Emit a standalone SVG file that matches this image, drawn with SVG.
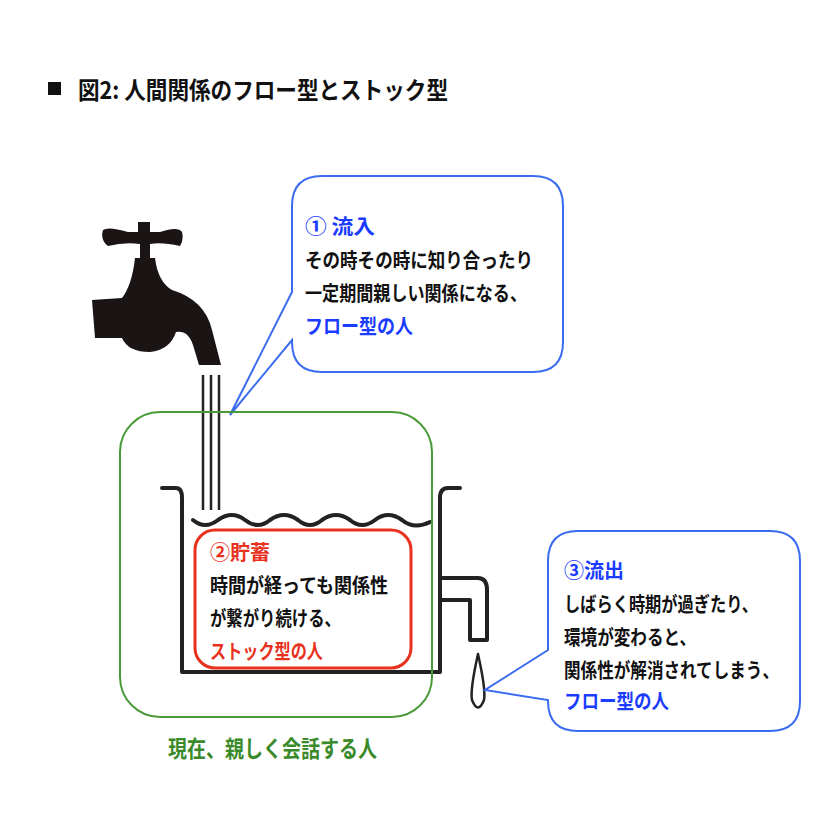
<svg xmlns="http://www.w3.org/2000/svg" width="830" height="830" viewBox="0 0 830 830">
<defs>
<style>
text{font-family:"Noto Sans CJK JP","Noto Sans",sans-serif;font-weight:bold;font-size:20px;fill:#111}
.b{fill:#1a3cff}.r{fill:#e8321e}.g{fill:#3a8a2a}
.ln{fill:none;stroke:#222;stroke-width:4;stroke-linecap:round;stroke-linejoin:round}
</style>
</defs>
<rect width="830" height="830" fill="#fff"/>
<g id="title"><rect x="48" y="82" width="13" height="13" fill="#111"/><text x="78" y="99" style="font-size:24px" textLength="370" lengthAdjust="spacingAndGlyphs">図2: 人間関係のフロー型とストック型</text></g>
<g id="faucet" fill="#1a1414">
<path d="M103 230 Q108 226 128 232 L138 232 L138 222 L150 222 L150 232 L160 232 Q178 226 182 232 Q184 240 180 246 Q162 242 150 244 L150 258 L140 258 L140 244 Q124 242 108 246 Q100 240 103 230Z"/>
<path d="M135 258 L155 258 Q158 282 172 290 Q205 300 212 330 L221 365 L199 365 L193 345 Q188 330 176 332 Q170 350 150 352 Q128 352 122 338 L95 338 L92 300 L122 298 Q132 285 135 258Z"/>
</g>
<g id="streams" class="ln" style="stroke-width:2.5;stroke-linecap:butt"><path d="M203 375V510M211 375V510M219 375V510"/></g>
<g id="tank" class="ln">
<path d="M162 488 H176 Q182 488 182 498 V672 H440 V498 Q440 488 448 488 H460"/>
<path d="M440 578 H478 Q487 578 487 590 V640 H470 V600 H440"/>
<path d="M193 520 Q205 530 218 520 Q232 510 245 520 Q258 530 270 520 Q284 510 298 520 Q310 530 322 520 Q336 510 350 520 Q362 530 375 520 Q388 510 402 520 Q414 530 430 522"/>
<path d="M478 654 Q470 690 472 700 Q478 715 484 700 Q486 690 478 654Z" style="stroke-width:2.5"/>
</g>
<g id="connectors" fill="#fff" stroke="#3b6cf0" stroke-width="2">
<path d="M322 176 H533 Q563 176 563 206 V342 Q563 372 533 372 H322 Q292 372 292 342 V340 L230 415 L292 292 V206 Q292 176 322 176Z"/>
<path d="M578 531 H770 Q800 531 800 561 V701 Q800 731 770 731 H578 Q548 731 548 701 L548 700 L485 690 L548 650 V561 Q548 531 578 531Z"/>
</g>
<g id="stock"><rect x="120" y="412" width="312" height="305" rx="40" fill="none" stroke="#4a9a3a" stroke-width="2"/>
<rect x="195" y="530" width="216" height="138" rx="20" fill="none" stroke="#e8321e" stroke-width="3"/>
<text x="168" y="757" class="g" style="font-size:23px" textLength="209" lengthAdjust="spacingAndGlyphs">現在、親しく会話する人</text></g>
<g id="inflow"><text x="305" y="234" class="b" textLength="70" lengthAdjust="spacingAndGlyphs">① 流入</text><text x="305" y="268" textLength="228" lengthAdjust="spacingAndGlyphs">その時その時に知り合ったり</text><text x="305" y="301" textLength="222" lengthAdjust="spacingAndGlyphs">一定期間親しい関係になる、</text><text x="305" y="334" class="b" textLength="108" lengthAdjust="spacingAndGlyphs">フロー型の人</text></g>
<g id="storage"><text x="210" y="560" class="r" textLength="60" lengthAdjust="spacingAndGlyphs">②貯蓄</text><text x="210" y="593" textLength="178" lengthAdjust="spacingAndGlyphs">時間が経っても関係性</text><text x="210" y="626" textLength="131" lengthAdjust="spacingAndGlyphs">が繋がり続ける、</text><text x="210" y="659" class="r" textLength="113" lengthAdjust="spacingAndGlyphs">ストック型の人</text></g>
<g id="outflow"><text x="564" y="578" class="b" textLength="60" lengthAdjust="spacingAndGlyphs">③流出</text><text x="564" y="612" textLength="194" lengthAdjust="spacingAndGlyphs">しばらく時期が過ぎたり、</text><text x="564" y="645" textLength="132" lengthAdjust="spacingAndGlyphs">環境が変わると、</text><text x="564" y="678" textLength="215" lengthAdjust="spacingAndGlyphs">関係性が解消されてしまう、</text><text x="564" y="709" class="b" textLength="105" lengthAdjust="spacingAndGlyphs">フロー型の人</text></g>
</svg>
